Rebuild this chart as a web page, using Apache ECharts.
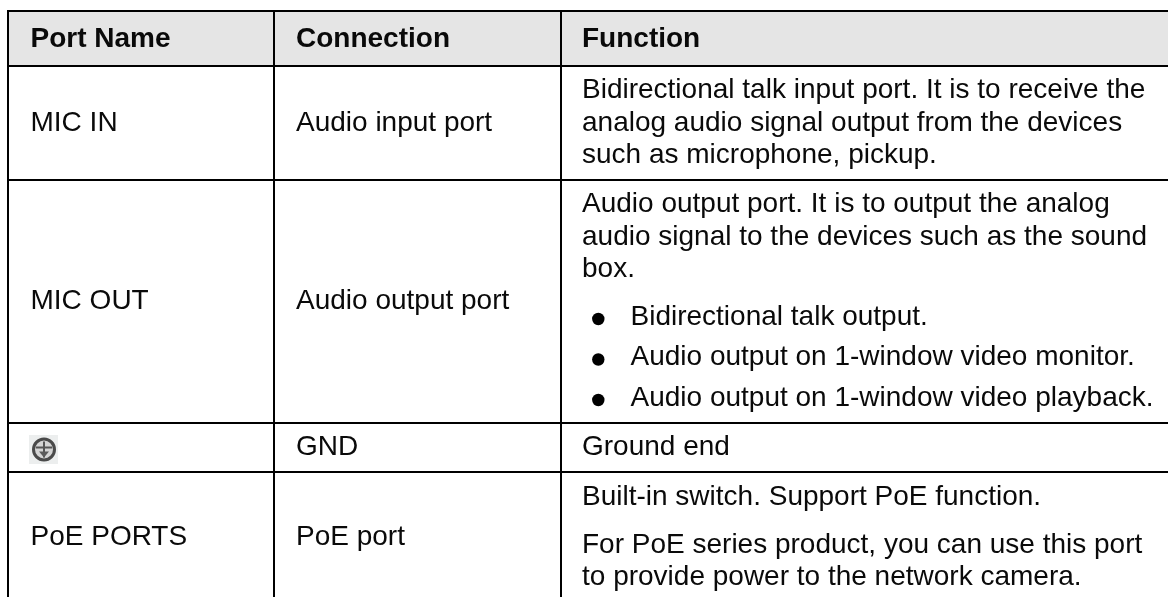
<!DOCTYPE html>
<html>
<head>
<meta charset="utf-8">
<style>
  html, body { margin: 0; padding: 0; background: #fff; }
  #chart { width: 1168px; height: 597px; }
</style>
<script src="https://cdn.jsdelivr.net/npm/echarts@6/dist/echarts.min.js"></script>
</head>
<body>
<div id="chart"></div>
<script>
// table content
var headers = ['Port Name', 'Connection', 'Function'];
var portNames = ['MIC IN', 'MIC OUT', 'PoE PORTS'];
var connections = ['Audio input port', 'Audio output port', 'GND', 'PoE port'];
var functionLines = [
    'Bidirectional talk input port. It is to receive the',
    'analog audio signal output from the devices',
    'such as microphone, pickup.',
    'Audio output port. It is to output the analog',
    'audio signal to the devices such as the sound',
    'box.',
    'Ground end',
    'Built-in switch. Support PoE function.',
    'For PoE series product, you can use this port',
    'to provide power to the network camera.'
];
var bulletLines = [
    'Bidirectional talk output.',
    'Audio output on 1-window video monitor.',
    'Audio output on 1-window video playback.'
];

// layout, in page pixels
var colLines = [8, 274, 561];
var rowLines = [11, 66, 180, 423, 472];
var textX = [30.5, 296, 582];
var bulletX = 598.3;
var bulletTextX = 630.5;
var headerBase = 49;
var portBase = [133, 311, 547];
var connBase = [133, 311, 457, 547];
var funcBase = [99.5, 133, 165, 214, 247, 279, 457, 507, 555, 586.5];
var bulletBase = [327, 367, 407.5];
var bulletMid = [319, 359.5, 400];
var iconBox = [29, 435, 29, 29];

var FONT_SIZE = 28;
var MID = 9.5; // distance from baseline up to the text middle

var textItems = [];
headers.forEach(function (t, i) {
    textItems.push([textX[i], headerBase, t, 'bold']);
});
portNames.forEach(function (t, i) {
    textItems.push([textX[0], portBase[i], t, 'normal']);
});
connections.forEach(function (t, i) {
    textItems.push([textX[1], connBase[i], t, 'normal']);
});
functionLines.forEach(function (t, i) {
    textItems.push([textX[2], funcBase[i], t, 'normal']);
});
bulletLines.forEach(function (t, i) {
    textItems.push([bulletTextX, bulletBase[i], t, 'normal']);
});

var lineItems = [];
rowLines.forEach(function (y) {
    lineItems.push([colLines[0] - 1, y, 1168, y]);
});
colLines.forEach(function (x) {
    lineItems.push([x, rowLines[0], x, 597]);
});

var myChart = echarts.init(document.getElementById('chart'), null, { renderer: 'canvas' });

var option = {
    animation: false,
    backgroundColor: '#fff',
    grid: { left: 0, right: 0, top: 0, bottom: 0 },
    xAxis: { type: 'value', min: 0, max: 1168, show: false },
    yAxis: { type: 'value', min: 0, max: 597, inverse: true, show: false },
    series: [
        {
            // header band
            type: 'custom',
            coordinateSystem: 'cartesian2d',
            silent: true,
            z: 1,
            data: [[colLines[0], rowLines[0], 1168, rowLines[1]]],
            renderItem: function (params, api) {
                var a = api.coord([api.value(0), api.value(1)]);
                var b = api.coord([api.value(2), api.value(3)]);
                return {
                    type: 'rect',
                    shape: { x: a[0], y: a[1], width: b[0] - a[0], height: b[1] - a[1] },
                    style: { fill: '#e5e5e5' }
                };
            }
        },
        {
            // ruling
            type: 'custom',
            coordinateSystem: 'cartesian2d',
            silent: true,
            z: 2,
            data: lineItems,
            renderItem: function (params, api) {
                var a = api.coord([api.value(0), api.value(1)]);
                var b = api.coord([api.value(2), api.value(3)]);
                return {
                    type: 'line',
                    shape: { x1: a[0], y1: a[1], x2: b[0], y2: b[1] },
                    style: { stroke: '#000', lineWidth: 2 }
                };
            }
        },
        {
            // bullets
            type: 'custom',
            coordinateSystem: 'cartesian2d',
            silent: true,
            z: 3,
            data: bulletMid.map(function (y) { return [bulletX, y]; }),
            renderItem: function (params, api) {
                var c = api.coord([api.value(0), api.value(1)]);
                return {
                    type: 'circle',
                    shape: { cx: c[0], cy: c[1], r: 6.2 },
                    style: { fill: '#000' }
                };
            }
        },
        {
            // ground symbol
            type: 'custom',
            coordinateSystem: 'cartesian2d',
            silent: true,
            z: 3,
            data: [iconBox],
            renderItem: function (params, api) {
                var p = api.coord([api.value(0), api.value(1)]);
                var w = api.value(2), h = api.value(3);
                var cx = p[0] + w / 2 + 0.5, cy = p[1] + h / 2;
                return {
                    type: 'group',
                    children: [
                        { type: 'rect', shape: { x: p[0], y: p[1], width: w, height: h }, style: { fill: '#eceeee' } },
                        { type: 'circle', shape: { cx: cx, cy: cy, r: 10.5 }, style: { fill: '#d4d4d4', stroke: '#4a4a4a', lineWidth: 3 } },
                        { type: 'line', shape: { x1: cx - 8, y1: cy - 2, x2: cx + 8, y2: cy - 2 }, style: { stroke: '#555', lineWidth: 2 } },
                        { type: 'line', shape: { x1: cx, y1: cy - 8, x2: cx, y2: cy + 8 }, style: { stroke: '#555', lineWidth: 2 } },
                        { type: 'polygon', shape: { points: [[cx - 5, cy + 2], [cx + 5, cy + 2], [cx, cy + 8]] }, style: { fill: '#5a5a5a' } }
                    ]
                };
            }
        },
        {
            // cell text
            type: 'custom',
            coordinateSystem: 'cartesian2d',
            silent: true,
            z: 4,
            encode: { x: 0, y: 1 },
            data: textItems,
            renderItem: function (params, api) {
                var item = textItems[params.dataIndex];
                var c = api.coord([item[0], item[1] - MID]);
                return {
                    type: 'text',
                    x: c[0],
                    y: c[1],
                    style: {
                        text: item[2],
                        fill: '#0a0a0a',
                        font: item[3] + ' ' + FONT_SIZE + 'px "Liberation Sans", Arial, sans-serif',
                        textAlign: 'left',
                        verticalAlign: 'middle'
                    }
                };
            }
        }
    ]
};

myChart.setOption(option);
</script>
</body>
</html>
